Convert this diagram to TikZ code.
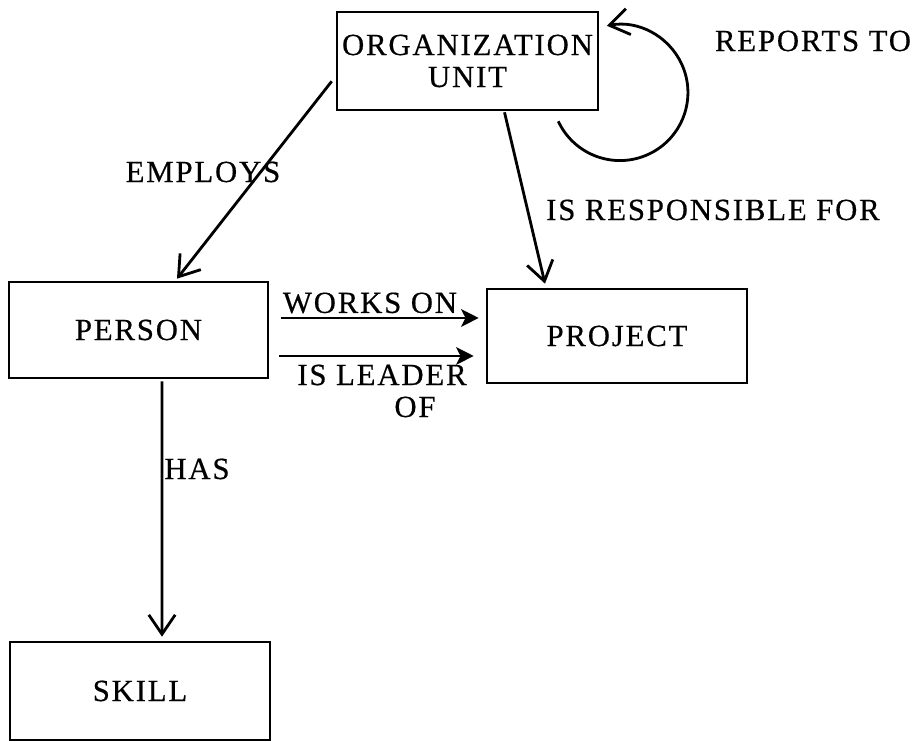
\documentclass[tikz,border=0pt]{standalone}
\usepackage{fontspec}
\setmainfont{Liberation Serif}[LetterSpace=6,FakeBold=0.5]
\usetikzlibrary{arrows.meta,calc}
\newcommand\diagfont{\fontsize{17.5}{18.2}\selectfont}
\begin{document}
\begin{tikzpicture}[x=0.02cm,y=0.02cm,
  entity/.style={draw,line width=1.5pt,inner sep=0pt,align=center,font=\diagfont},
  rel/.style={line width=1.6pt,-{Straight Barb[length=11pt,width=15pt,line width=1.6pt]}},
  relfill/.style={line width=1.6pt,-{Stealth[length=10pt,width=10pt,inset=2.5pt]}},
  lab/.style={inner sep=0pt,align=center,font=\diagfont}]
\useasboundingbox (0,0) rectangle (913,742);

% entities
\node[entity,minimum width=5.22cm,minimum height=1.96cm] (org) at (467.5,681) {ORGANIZATION\\UNIT};
\node[entity,minimum width=5.18cm,minimum height=1.92cm] (person) at (138.5,412) {PERSON};
\node[entity,minimum width=5.2cm,minimum height=1.88cm] (project) at (617,406) {PROJECT};
\node[entity,minimum width=5.2cm,minimum height=1.96cm] (skill) at (140,51) {SKILL};

% relationships
\draw[rel] ($(org.south west)+(-4,30)$) -- ($(person.north)+(38.5,2)$);
\draw[rel] ($(org.south)+(37,-1)$) -- ($(project.north)+(-72,4)$);
\draw[relfill] ($(person.east)+(12,12)$) -- ($(person.east -| project.west)+(-7,12)$);
\draw[relfill] ($(person.east)+(10,-26)$) -- ($(person.east -| project.west)+(-12,-26)$);
\draw[rel] ($(person.south)+(23.5,-2)$) -- ($(skill.north)+(22,4)$);
\coordinate (selfstart) at ($(org.south east)+(-41,-10)$);
\draw[rel] (selfstart) arc[start angle=205,end angle=461,radius=68];

% relationship labels
\node[lab] (employs) at (203,570) {EMPLOYS};
\node[lab] (resp) at (713,532) {IS RESPONSIBLE FOR};
\node[lab] (reports) at (813,701) {REPORTS TO};
\node[lab] (works) at (370,439) {WORKS ON};
\node[lab] (leader) at (382,351) {IS LEADER\\\hspace*{1.32cm}OF};
\node[lab] (has) at (197,273) {HAS};
\end{tikzpicture}
\end{document}
